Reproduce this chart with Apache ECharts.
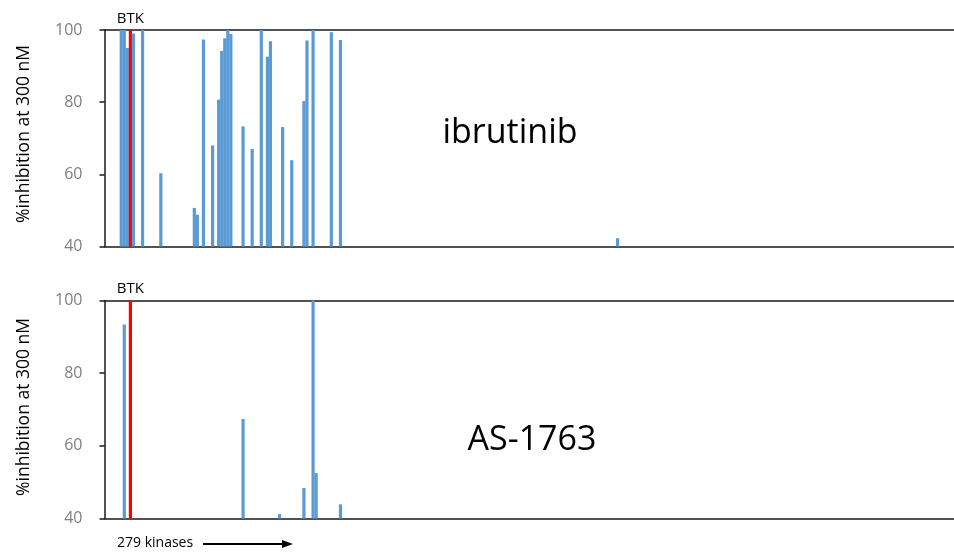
<!DOCTYPE html>
<html>
<head>
    <meta charset="utf-8">
    <title>Kinase selectivity</title>
    <script src="https://cdn.jsdelivr.net/npm/echarts@6/dist/echarts.min.js"></script>
    <style type="text/css">
        html, body { margin: 0; padding: 0; background: #ffffff; }
        #chart { width: 954px; height: 553px; }
    </style>
</head>
<body>
<div id="chart"></div>

<script>
    // 279 kinases on the x axis, only the ones above 40% are drawn
    var kinaseCount = 279;
    var btkIndex = 8;
    var btkValue = 100;

    var ibrutinibIdx = [5, 6, 7, 9, 12, 18, 29, 30, 32, 35, 37, 38, 39, 40, 41, 45, 48, 51, 53, 54, 58, 61, 65, 66, 68, 74, 77, 168];
    var ibrutinibVal = [100, 100, 95, 99, 100, 60.3, 50.7, 48.8, 97.4, 68, 80.7, 94.2, 97.7, 100, 98.9, 73.3, 67, 100, 92.6, 96.9, 73.1, 63.9, 80.3, 97.1, 100, 99.4, 97.2, 42.3];

    var as1763Idx = [6, 45, 57, 65, 68, 69, 77];
    var as1763Val = [93.4, 67.4, 41.2, 48.4, 100, 52.5, 43.9];

    var yTicks = [40, 60, 80, 100];

    var categories = [];
    for (var i = 0; i < kinaseCount; i++) {
        categories.push('K' + (i + 1));
    }

    function buildData(idx, val) {
        var data = [];
        for (var i = 0; i < kinaseCount; i++) data.push(null);
        for (var j = 0; j < idx.length; j++) data[idx[j]] = val[j];
        data[btkIndex] = {
            value: btkValue,
            itemStyle: {color: '#ff0000'},
            label: {show: true, position: 'top', formatter: 'BTK', distance: 4,
                color: '#000000', fontSize: 15, fontFamily: 'Open Sans'}
        };
        return data;
    }

    var font = 'Open Sans';
    var axisColor = '#1a1a1a';

    function xAxes(gridIndex) {
        return [{
            type: 'category',
            gridIndex: gridIndex,
            data: categories,
            position: 'bottom',
            axisLine: {lineStyle: {color: axisColor, width: 1.5}},
            axisTick: {show: false},
            axisLabel: {show: false}
        }, {
            type: 'category',
            gridIndex: gridIndex,
            data: categories,
            position: 'top',
            axisLine: {lineStyle: {color: axisColor, width: 1.5}},
            axisTick: {show: false},
            axisLabel: {show: false}
        }];
    }

    function yAxis(gridIndex) {
        return {
            type: 'value',
            gridIndex: gridIndex,
            min: yTicks[0],
            max: yTicks[yTicks.length - 1],
            interval: 20,
            axisLine: {show: true, lineStyle: {color: axisColor, width: 1.5}},
            axisTick: {show: true, inside: false, length: 5, lineStyle: {color: axisColor, width: 1.5}},
            axisLabel: {color: '#7f7f7f', fontSize: 16, fontFamily: font, margin: 22},
            splitLine: {show: false}
        };
    }

    function yTitle(y) {
        return {
            type: 'text',
            x: 24, y: y,
            rotation: Math.PI / 2,
            style: {text: '%inhibition at 300 nM', font: '17.5px "Open Sans"', fill: '#000000',
                textAlign: 'center', textVerticalAlign: 'middle'}
        };
    }

    var myChart = echarts.init(document.getElementById('chart'), null, {renderer: 'canvas'});

    var option = {
        backgroundColor: '#ffffff',
        animation: false,
        grid: [
            {left: 104.5, right: 0, top: 30, height: 216.5},
            {left: 104.5, right: 0, top: 300.5, height: 218}
        ],
        xAxis: xAxes(0).concat(xAxes(1)),
        yAxis: [yAxis(0), yAxis(1)],
        series: [{
            type: 'bar',
            name: 'ibrutinib',
            xAxisIndex: 0,
            yAxisIndex: 0,
            data: buildData(ibrutinibIdx, ibrutinibVal),
            barWidth: 3.2,
            itemStyle: {color: '#5b9bd5'}
        }, {
            type: 'bar',
            name: 'AS-1763',
            xAxisIndex: 2,
            yAxisIndex: 1,
            data: buildData(as1763Idx, as1763Val),
            barWidth: 3.2,
            itemStyle: {color: '#5b9bd5'}
        }],
        graphic: [yTitle(134), yTitle(407), {
            type: 'text',
            x: 510, y: 133,
            style: {text: 'ibrutinib', font: '34px "Open Sans"', fill: '#000000',
                textAlign: 'center', textVerticalAlign: 'middle'}
        }, {
            type: 'text',
            x: 532, y: 440,
            style: {text: 'AS-1763', font: '34px "Open Sans"', fill: '#000000',
                textAlign: 'center', textVerticalAlign: 'middle'}
        }, {
            type: 'text',
            x: 117, y: 543,
            style: {text: '279 kinases', font: '14px "Open Sans"', fill: '#000000',
                textAlign: 'left', textVerticalAlign: 'middle'}
        }, {
            type: 'line',
            shape: {x1: 203, y1: 544, x2: 284, y2: 544},
            style: {stroke: '#000000', lineWidth: 2}
        }, {
            type: 'polygon',
            shape: {points: [[282, 540], [293, 544], [282, 548]]},
            style: {fill: '#000000'}
        }]
    };

    myChart.setOption(option);
</script>
</body>
</html>
